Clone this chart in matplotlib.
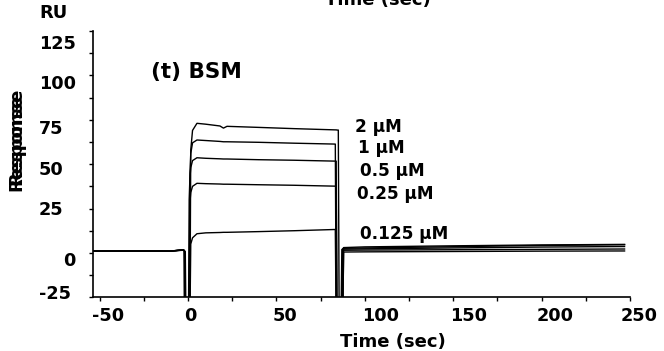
import matplotlib.pyplot as plt
from matplotlib.transforms import offset_copy
import numpy as np

# sensorgram (RU vs sec), one row per concentration
time_s = [-54, -30, -10, -3, -2.2, -2.0, -1.6, -1.2, 0.2, 0.6, 1.0, 1.5, 2.5, 5, 10, 18, 20, 22,
          40, 60, 83.3, 83.8, 84.3, 85.0, 85.5, 86.5, 87.0, 87.5, 88.0, 100, 150, 200, 247]

resp_2uM = [1, 1.1, 1, 1.8, 1.5, -40, -40, -40, -40, -40, -40, 58, 69, 73, 72.5, 71.5, 70.3, 71.3,
            70.7, 70, 69.3, 69.3, 69.2, 69.2, -40, -40, -40, -40, 3.0, 3.4, 4.0, 4.5, 4.8]
resp_1uM = [1, 1.1, 1, 1.6, 1.3, 1.0, -40, -40, -40, -40, 45, 56, 62, 63.6, 63.3, 62.8, 62.6, 62.6,
            62.3, 61.8, 61.3, -40, -40, -40, -40, -40, -40, 2.5, 2.6, 2.8, 3.5, 4.2, 4.6]
resp_05uM = [1, 1.1, 1, 1.5, 1.2, 1.0, 0.8, -40, -40, 30, 42, 48, 52, 53.6, 53.3, 53.0, 52.9, 52.9,
             52.5, 52.2, 51.7, 51.7, -40, -40, -40, -40, 2.0, 2.0, 2.1, 2.3, 2.8, 3.3, 3.6]
resp_025uM = [1, 1.1, 1, 1.7, 1.3, -40, -40, -40, -40, -40, 28, 34, 37.5, 39.2, 39.0, 38.8, 38.7, 38.7,
              38.4, 38.1, 37.6, 37.6, -40, -40, -40, -40, -40, 1.5, 1.5, 1.6, 1.8, 2.0, 2.2]
resp_0125uM = [1, 1.1, 1, 1.8, 1.4, 1.1, -40, -40, -40, -40, -40, 5, 8.5, 10.8, 11.3, 11.5, 11.6, 11.6,
               12.0, 12.5, 13.2, -40, -40, -40, -40, -40, -40, -40, 0.5, 0.6, 0.8, 1.0, 1.1]

conc_labels = ["2 \u03bcM", "1 \u03bcM", "0.5 \u03bcM", "0.25 \u03bcM", "0.125 \u03bcM"]
label_x = [94.4, 96.4, 97.3, 95.5, 97.3]
label_y = [68.3, 56.1, 43.4, 30.5, 7.6]

xticks = [-50, 0, 50, 100, 150, 200, 250]
yticks = [-25, 0, 25, 50, 75, 100, 125]
xtick_labels = ["-50", "0", "50", "100", "150", "200", "250"]
ytick_labels = ["-25", "0", "25", "50", "75", "100", "125"]

# the original tick labels sit a bit off their ticks (pixels)
xlab_dx = [8.5, 2, 8.5, 16, 15, 13.5, 9.5]
ylab_dy = [-5, 7, 0, 4, 7.5, 7.5, 12]
ylab_dx = [-54, -30, -54, -54, -54, -54, -54]

plt.rcParams['font.family'] = ['DejaVu Sans']
plt.rcParams['font.weight'] = 'bold'

fig = plt.figure(figsize=(6.64, 3.51), dpi=100)
ax = fig.add_axes([0.1396, 0.153, 0.809, 0.7587])

for r in [resp_2uM, resp_1uM, resp_05uM, resp_025uM, resp_0125uM]:
    ax.plot(time_s, r, color='black', lw=1.0)

ax.set_xlim(-54, 250)
ax.set_ylim(-25, 125)
ax.set_xticks(xticks)
ax.set_yticks(yticks)
ax.set_xticks(np.arange(-50, 251, 25), minor=True)
ax.set_yticks(np.arange(-25, 126, 12.5), minor=True)

for side in ['top', 'right']:
    ax.spines[side].set_visible(False)
for side in ['left', 'bottom']:
    ax.spines[side].set_linewidth(1.2)

ax.tick_params(axis='both', which='both', direction='out', length=3, width=1,
               labelbottom=False, labelleft=False)

for t, lab, dx in zip(xticks, xtick_labels, xlab_dx):
    tr = offset_copy(ax.transData, fig=fig, x=dx, y=-24, units='dots')
    ax.text(t, -25, lab, transform=tr, fontsize=12.7, fontweight='bold',
            ha='center', va='baseline', clip_on=False)

for t, lab, dx, dy in zip(yticks, ytick_labels, ylab_dx, ylab_dy):
    tr = offset_copy(ax.transData, fig=fig, x=dx, y=-(dy + 6.4), units='dots')
    ax.text(-54, t, lab, transform=tr, fontsize=12.7, fontweight='bold',
            ha='left', va='baseline', clip_on=False)

for txt, x, y in zip(conc_labels, label_x, label_y):
    ax.text(x, y, txt, fontsize=12.2, fontweight='bold', va='baseline', ha='left')

ax.text(-20.8, 98.4, "(t) BSM", fontsize=15.5, fontweight='bold', va='baseline', ha='left')

# axis titles placed like the original figure
fig.text(39 / 664, 1 - 18 / 351, "RU", fontsize=13, fontweight='bold', va='baseline')
fig.text(340 / 664, 1 - 342 / 351, "Time (sec)", fontsize=13, fontweight='bold', va='center')
fig.text(325 / 664, 1 - 5 / 351, "Time (sec)", fontsize=13, fontweight='bold', va='baseline')
fig.text(16 / 664, 1 - 136 / 351, "Response", fontsize=13, fontweight='bold',
         rotation=90, ha='center', va='center')
fig.text(16 / 664, 1 - 142 / 351, "Response", fontsize=13, fontweight='bold',
         rotation=90, ha='center', va='center')

fig.savefig("out.png", dpi=100)
